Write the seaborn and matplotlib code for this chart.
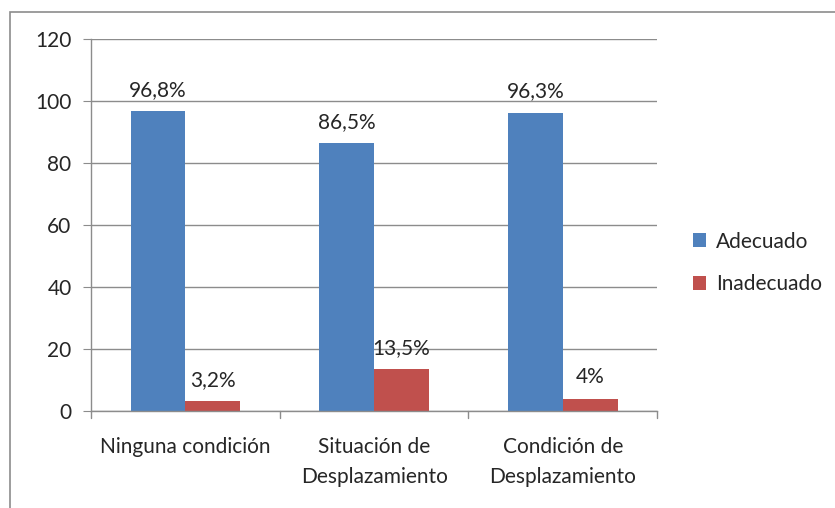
import matplotlib
matplotlib.use("Agg")
import matplotlib.pyplot as plt
import matplotlib.patches as mpatches
import seaborn as sns
import pandas as pd

# Data
categories = ["Ninguna condición", "Situación de\nDesplazamiento", "Condición de\nDesplazamiento"]
adecuado = [96.8, 86.5, 96.3]
inadecuado = [3.2, 13.5, 4.0]
value_labels_adecuado = ["96,8%", "86,5%", "96,3%"]
value_labels_inadecuado = ["3,2%", "13,5%", "4%"]
series_names = ["Adecuado", "Inadecuado"]
y_ticks = [0, 20, 40, 60, 80, 100, 120]

df = pd.DataFrame({
    "cat": categories * 2,
    "valor": adecuado + inadecuado,
    "serie": [series_names[0]] * 3 + [series_names[1]] * 3,
})

sns.set_style("white")
plt.rcParams["font.family"] = ["Lato", "DejaVu Sans"]

FS = 15

fig = plt.figure(figsize=(8.35, 5.08), dpi=100)
ax = fig.add_axes([0.109, 0.191, 0.678, 0.732])

palette = {"Adecuado": "#4F81BD", "Inadecuado": "#C0504D"}
sns.barplot(data=df, x="cat", y="valor", hue="serie", palette=palette,
            width=0.58, gap=0, saturation=1, ax=ax, edgecolor="none")

ax.set_ylim(0, 120)
ax.set_xlim(-0.5, 2.5)
ax.set_yticks(y_ticks)
ax.yaxis.grid(True, color="#8c8c8c", linewidth=1)
ax.set_axisbelow(True)
ax.set_xlabel("")
ax.set_ylabel("")

for s in ["top", "right"]:
    ax.spines[s].set_visible(False)
for s in ["left", "bottom"]:
    ax.spines[s].set_color("#8c8c8c")
    ax.spines[s].set_linewidth(1)

ax.tick_params(axis="y", length=6, color="#8c8c8c", labelsize=FS, pad=8, left=True)
ax.tick_params(axis="x", length=0, labelsize=FS, pad=19)
ax.set_xticks([0, 1, 2])
ax.set_xticklabels(categories, linespacing=1.6)
# category separator ticks on the x axis
for xb in [-0.5, 0.5, 1.5, 2.5]:
    ax.plot([xb, xb], [0, -2.2], color="#8c8c8c", linewidth=1, clip_on=False)

for cont, labs in zip(ax.containers, [value_labels_adecuado, value_labels_inadecuado]):
    ax.bar_label(cont, labels=labs, padding=8, fontsize=FS)

leg = ax.legend(loc="center left", bbox_to_anchor=(1.03, 0.398), frameon=False,
                fontsize=FS, handlelength=0.65, handleheight=0.65,
                handletextpad=0.45, labelspacing=1.1)

# outer chart frame
fig.patches.append(mpatches.Rectangle((10 / 835, -0.05), 1.2, 1 - 12 / 508 + 0.05,
                                      transform=fig.transFigure, fill=False,
                                      edgecolor="#8c8c8c", linewidth=1.2))

fig.savefig("out.png", dpi=100)
